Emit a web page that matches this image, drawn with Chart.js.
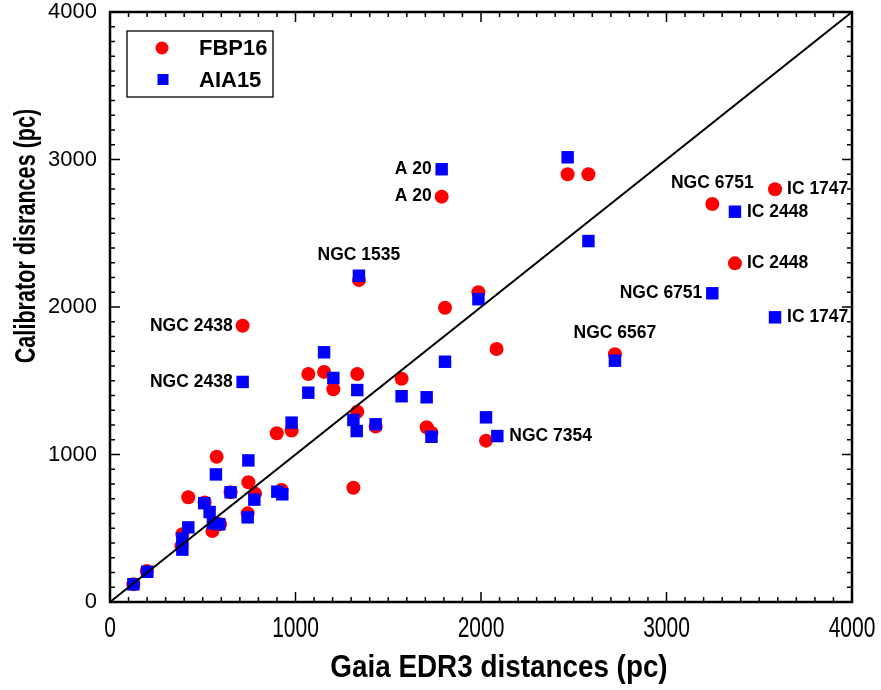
<!DOCTYPE html>
<html>
<head>
<meta charset="utf-8">
<script src="https://cdn.jsdelivr.net/npm/chart.js@4.4.1/dist/chart.umd.min.js"></script>
<style>
  html, body { margin: 0; padding: 0; background: #fff; }
</style>
</head>
<body>
<canvas id="chart" width="881" height="690"></canvas>
<script>
// FBP16 calibrator distances vs Gaia EDR3 (pc)
const fbpX = [126, 198, 390, 385, 422, 510, 552, 575, 593, 650, 746, 782, 742, 899, 979, 925,
  1069, 1154, 1204, 1333, 1333, 1312, 1342, 715, 1432, 1572, 1707, 1733, 1806, 1986, 2084,
  2027, 1788, 2467, 2579, 2722, 3247, 3369, 3585];
const fbpY = [120, 210, 460, 380, 710, 675, 481, 985, 527, 744, 812, 735, 601, 1144, 1162, 760,
  1546, 1560, 1442, 1546, 1290, 775, 2183, 1873, 1190, 1514, 1185, 1148, 1995, 2100, 1715,
  1094, 2748, 2900, 2900, 1680, 2698, 2296, 2798];

// AIA15
const aiaX = [126, 201, 390, 390, 422, 508, 537, 555, 589, 571, 650, 746, 778, 742, 979, 902,
  929, 1069, 1154, 1204, 1333, 1312, 1330, 1432, 1572, 1707, 1733, 1342, 715, 1806, 1986,
  2027, 2088, 1788, 2467, 2579, 2722, 3247, 3369, 3585];
const aiaY = [120, 205, 430, 355, 506, 670, 610, 534, 527, 865, 744, 960, 694, 574, 1216, 748,
  730, 1419, 1693, 1519, 1437, 1234, 1159, 1205, 1395, 1388, 1120, 2212, 1492, 1629, 2053,
  1252, 1125, 2934, 3015, 2447, 1636, 2093, 2646, 1930];

const axisTicks = [0, 1000, 2000, 3000, 4000];
const diagLine = [0, 4000];

// object names: text, anchor point, side of the point
const noteText = ['NGC 2438', 'NGC 2438', 'NGC 1535', 'A 20', 'A 20', 'NGC 6751', 'IC 1747',
  'IC 2448', 'IC 2448', 'NGC 6751', 'IC 1747', 'NGC 6567', 'NGC 7354'];
const noteX = [715, 715, 1342, 1788, 1788, 3247, 3585, 3369, 3369, 3247, 3585, 2722, 2088];
const noteY = [1873, 1492, 2212, 2934, 2748, 2698, 2798, 2646, 2296, 2093, 1930, 1680, 1125];
const noteSide = ['L', 'L', 'T', 'L', 'L', 'T', 'R', 'R', 'R', 'L', 'R', 'T', 'R'];

const RED = '#ff0000';
const BLUE = '#0000ff';
const SANS = '"Liberation Sans", Arial, sans-serif';

const toPoints = (xs, ys) => xs.map((x, i) => ({ x, y: ys[i] }));

/* Frame, inward ticks, labels, legend and notes drawn on top. */
const decor = {
  id: 'decor',
  afterDraw(chart) {
    const { ctx, chartArea: a, scales } = chart;
    const xs = scales.x, ys = scales.y;
    ctx.save();
    ctx.strokeStyle = '#000';
    ctx.fillStyle = '#000';

    // minor/major ticks on all four sides
    ctx.lineWidth = 1.5;
    ctx.beginPath();
    for (let v = 0; v <= 4000; v += 100) {
      const len = v % 1000 === 0 ? 10 : 5;
      const px = xs.getPixelForValue(v);
      ctx.moveTo(px, a.bottom); ctx.lineTo(px, a.bottom - len);
      ctx.moveTo(px, a.top); ctx.lineTo(px, a.top + len);
      const py = ys.getPixelForValue(v);
      ctx.moveTo(a.left, py); ctx.lineTo(a.left + len, py);
      ctx.moveTo(a.right, py); ctx.lineTo(a.right - len, py);
    }
    ctx.stroke();

    ctx.lineWidth = 2.5;
    ctx.strokeRect(a.left, a.top, a.right - a.left, a.bottom - a.top);

    // x tick labels (narrow)
    ctx.font = '30px ' + SANS;
    ctx.textAlign = 'center';
    ctx.textBaseline = 'middle';
    axisTicks.forEach((v) => {
      ctx.save();
      ctx.translate(xs.getPixelForValue(v), a.bottom + 27);
      ctx.scale(0.7, 1);
      ctx.fillText(String(v), 0, 0);
      ctx.restore();
    });

    // axis titles
    ctx.font = 'bold 32px ' + SANS;
    ctx.save();
    ctx.translate(499, a.bottom + 66);
    ctx.scale(0.87, 1);
    ctx.fillText('Gaia EDR3 distances (pc)', 0, 0);
    ctx.restore();

    ctx.font = 'bold 30px ' + SANS;
    ctx.save();
    ctx.translate(27, 236);
    ctx.rotate(-Math.PI / 2);
    ctx.scale(0.72, 1);
    ctx.fillText('Calibrator disrances (pc)', 0, 0);
    ctx.restore();

    // object notes
    ctx.font = 'bold 17.5px ' + SANS;
    noteText.forEach((t, i) => {
      const px = xs.getPixelForValue(noteX[i]);
      const py = ys.getPixelForValue(noteY[i]);
      if (noteSide[i] === 'L') {
        ctx.textAlign = 'right';
        ctx.fillText(t, px - 10, py);
      } else if (noteSide[i] === 'R') {
        ctx.textAlign = 'left';
        ctx.fillText(t, px + 12, py);
      } else {
        ctx.textAlign = 'center';
        ctx.fillText(t, px, py - 21);
      }
    });

    // legend box
    const lx = a.left + 17, ly = a.top + 19;
    ctx.lineWidth = 1.5;
    ctx.strokeStyle = '#222';
    ctx.strokeRect(lx, ly, 146, 66);
    ctx.fillStyle = RED;
    ctx.beginPath();
    ctx.arc(lx + 35, ly + 17, 6.5, 0, Math.PI * 2);
    ctx.fill();
    ctx.fillStyle = BLUE;
    ctx.fillRect(lx + 30.5, ly + 43, 11, 11);
    ctx.fillStyle = '#000';
    ctx.font = 'bold 22px ' + SANS;
    ctx.textAlign = 'left';
    ctx.fillText(chart.data.datasets[2].label, lx + 72, ly + 18);
    ctx.fillText(chart.data.datasets[1].label, lx + 72, ly + 50);
    ctx.restore();
  },
};

new Chart(document.getElementById('chart'), {
  type: 'scatter',
  data: {
    datasets: [
      {
        label: 'y = x',
        data: toPoints(diagLine, diagLine),
        showLine: true,
        borderColor: '#000',
        borderWidth: 2,
        pointRadius: 0,
        order: 0,
      },
      {
        label: 'AIA15',
        data: toPoints(aiaX, aiaY),
        pointStyle: 'rect',
        pointRadius: 8.8,
        backgroundColor: BLUE,
        borderWidth: 0,
        order: 1,
      },
      {
        label: 'FBP16',
        data: toPoints(fbpX, fbpY),
        pointStyle: 'circle',
        pointRadius: 7,
        backgroundColor: RED,
        borderWidth: 0,
        order: 2,
      },
    ],
  },
  options: {
    responsive: false,
    animation: false,
    layout: { padding: { top: 12, right: 29, left: 0, bottom: 0 } },
    plugins: { legend: { display: false }, tooltip: { enabled: false } },
    scales: {
      x: {
        type: 'linear', min: 0, max: 4000,
        ticks: { display: false, stepSize: 1000 },
        grid: { display: false, drawTicks: false },
        border: { display: false },
        afterFit: (s) => { s.height = 88; s.paddingLeft = 0; s.paddingRight = 0; },
      },
      y: {
        type: 'linear', min: 0, max: 4000,
        ticks: {
          stepSize: 1000, padding: 13, color: '#000',
          font: { family: SANS, size: 22 },
          callback: (v) => String(v),
        },
        grid: { display: false, drawTicks: false },
        border: { display: false },
        afterFit: (s) => { s.width = 110; s.paddingTop = 0; s.paddingBottom = 0; },
      },
    },
  },
  plugins: [decor],
});
</script>
</body>
</html>
